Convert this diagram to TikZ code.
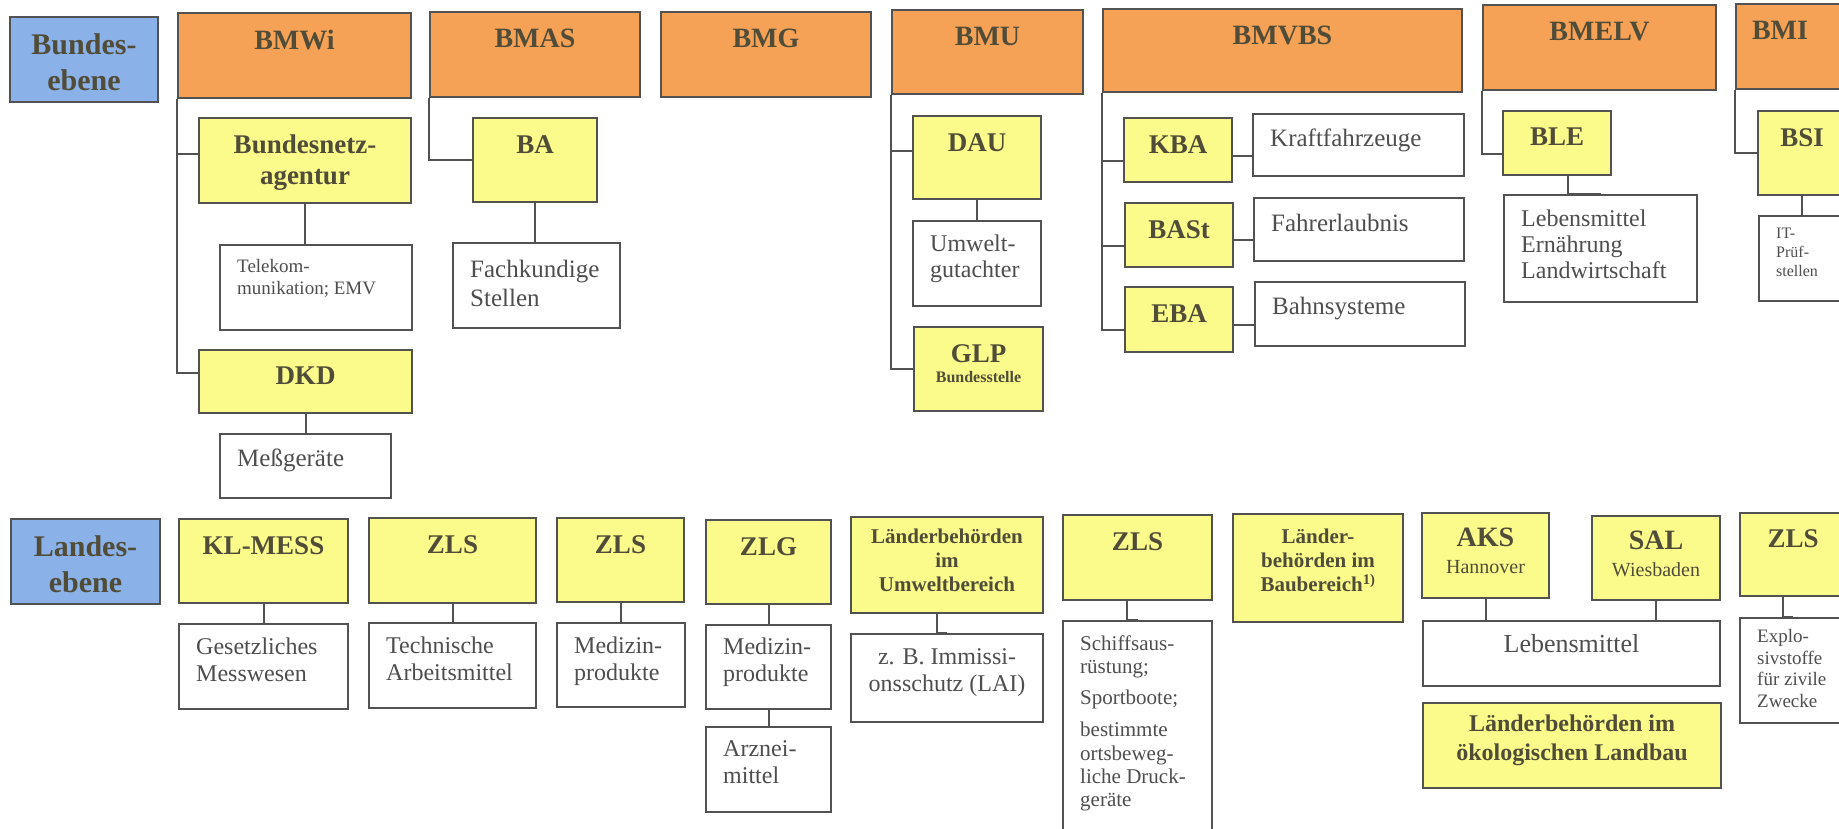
\documentclass[tikz,border=0pt]{standalone}
\usepackage{fontspec}
\setmainfont{Liberation Serif}
\usetikzlibrary{calc}
\definecolor{orangec}{RGB}{246,162,86}
\definecolor{yellowc}{RGB}{251,251,140}
\definecolor{bluec}{RGB}{139,178,232}
\definecolor{linec}{RGB}{82,82,82}
\definecolor{titlec}{RGB}{80,76,56}
\definecolor{txtc}{RGB}{78,78,78}
% box style, name, x1, y1, x2, y2, text style, text
\newcommand{\bx}[8]{%
  \node[#1,minimum width={#5-#3},minimum height={#6-#4}] (#2) at ({(#3+#5)/2},{(#4+#6)/2}) {};
  \def\bxname{#2}%
  \node[#7] (#2t) {#8};}

\begin{document}
\begin{tikzpicture}[x=1pt,y=-1pt,
  box/.style={draw=linec,line width=2pt,inner sep=0pt},
  ob/.style={box,fill=orangec},
  yb/.style={box,fill=yellowc},
  wb/.style={box,fill=white},
  bb/.style={box,fill=bluec},
  ln/.style={draw=linec,line width=2pt},
  tt/.style={at={(\bxname.north)},anchor=north,align=center,inner sep=0pt,text=titlec,yshift=-#1},
  ot/.style={tt=#1,font=\bfseries\fontsize{28}{32}\selectfont}, ot/.default=18pt,
  yt/.style={tt=#1,font=\bfseries\fontsize{27}{31}\selectfont}, yt/.default=18pt,
  bt/.style={tt=#1,font=\bfseries\fontsize{30}{36}\selectfont}, bt/.default=17pt,
  st/.style={tt=#1,font=\bfseries\fontsize{21}{24}\selectfont}, st/.default=14pt,
  ct/.style={at={(\bxname.north)},anchor=north,align=center,inner sep=0pt,text=txtc,yshift=-#1,font=\fontsize{24}{27}\selectfont}, ct/.default=15pt,
  lt/.style={at={(\bxname.north west)},anchor=north west,align=left,inner sep=0pt,text=txtc,xshift=18pt,yshift=-#1,font=\fontsize{24}{27}\selectfont}, lt/.default=16pt]
\useasboundingbox (0,0) rectangle (1839,828);
\fill[white] (0,0) rectangle (1839,828);
\clip (0,0) rectangle (1839,828);

% Bundesebene
\bx{bb}{bund}{10}{17}{158}{102}{bt}{Bundes-\\ebene}
\bx{ob}{bmwi}{178}{13}{411}{98}{ot}{BMWi}
\bx{ob}{bmas}{430}{12}{640}{97}{ot}{BMAS}
\bx{ob}{bmg}{661}{12}{871}{97}{ot}{BMG}
\bx{ob}{bmu}{892}{10}{1083}{94}{ot}{BMU}
\bx{ob}{bmvbs}{1103}{9}{1462}{92}{ot}{BMVBS}
\bx{ob}{bmelv}{1483}{5}{1716}{90}{ot}{BMELV}
\bx{ob}{bmi}{1736}{4}{1850}{89}{ot,xshift=-13pt}{BMI}

\bx{yb}{bnetza}{199}{118}{411}{203}{yt}{Bundesnetz-\\agentur}
\bx{wb}{tele}{220}{245}{412}{330}{lt=15pt,font=\fontsize{19}{22}\selectfont}{Telekom-\\munikation; EMV}
\bx{yb}{dkd}{199}{350}{412}{413}{yt}{DKD}
\bx{wb}{mess}{220}{434}{391}{498}{lt=16pt,font=\fontsize{25}{28}\selectfont}{Meßgeräte}

\bx{yb}{ba}{473}{118}{597}{202}{yt}{BA}
\bx{wb}{fachk}{453}{243}{620}{328}{lt=18pt,font=\fontsize{25}{29}\selectfont}{Fachkundige\\Stellen}

\bx{yb}{dau}{913}{116}{1041}{199}{yt}{DAU}
\bx{wb}{umwelt}{913}{221}{1041}{306}{lt=15pt,font=\fontsize{24}{26}\selectfont}{Umwelt-\\gutachter}
\bx{yb}{glp}{914}{327}{1043}{411}{yt}{GLP\\[-11pt]{\fontsize{16}{18}\selectfont Bundesstelle}}

\bx{yb}{kba}{1124}{118}{1232}{182}{yt}{KBA}
\bx{yb}{bast}{1125}{203}{1233}{267}{yt}{BASt}
\bx{yb}{eba}{1125}{287}{1233}{352}{yt}{EBA}
\bx{wb}{kfz}{1253}{114}{1464}{176}{lt=16pt,font=\fontsize{25}{28}\selectfont}{Kraftfahrzeuge}
\bx{wb}{fahr}{1254}{198}{1464}{261}{lt=17pt,font=\fontsize{25}{28}\selectfont}{Fahrerlaubnis}
\bx{wb}{bahn}{1255}{282}{1465}{346}{lt=16pt,font=\fontsize{25}{28}\selectfont}{Bahnsysteme}

\bx{yb}{ble}{1503}{111}{1611}{175}{yt}{BLE}
\bx{wb}{leb}{1504}{195}{1697}{302}{lt=16pt,font=\fontsize{24}{26}\selectfont}{Lebensmittel\\Ernährung\\Landwirtschaft}

\bx{yb}{bsi}{1758}{111}{1846}{195}{yt}{BSI}
\bx{wb}{it}{1759}{216}{1846}{301}{lt=13pt,font=\fontsize{16}{19}\selectfont}{IT-\\Prüf-\\stellen}

% Landesebene
\bx{bb}{land}{11}{519}{160}{604}{bt}{Landes-\\ebene}
\bx{yb}{klmess}{179}{519}{348}{603}{yt}{KL-MESS}
\bx{yb}{zlsa}{369}{518}{536}{603}{yt}{ZLS}
\bx{yb}{zlsb}{557}{518}{684}{602}{yt}{ZLS}
\bx{yb}{zlg}{706}{520}{831}{604}{yt}{ZLG}
\bx{yb}{lbu}{851}{517}{1043}{613}{st=13pt}{Länderbehörden\\im\\Umweltbereich}
\bx{yb}{zlsc}{1063}{515}{1212}{600}{yt}{ZLS}
\bx{yb}{bau}{1233}{514}{1403}{622}{st=16pt}{Länder-\\behörden im\\Baubereich\textsuperscript{1)}}
\bx{yb}{aks}{1422}{513}{1549}{598}{ot=16pt}{AKS\\[-5pt]{\mdseries\fontsize{20}{24}\selectfont Hannover}}
\bx{yb}{sal}{1592}{516}{1720}{600}{ot=16pt}{SAL\\[-5pt]{\mdseries\fontsize{20}{24}\selectfont Wiesbaden}}
\bx{yb}{zlsd}{1740}{513}{1846}{596}{yt=17pt}{ZLS}

\bx{wb}{gesetz}{179}{624}{348}{709}{lt=15pt}{Gesetzliches\\Messwesen}
\bx{wb}{techn}{369}{623}{536}{708}{lt=15pt}{Technische\\Arbeitsmittel}
\bx{wb}{meda}{557}{623}{685}{707}{lt=15pt}{Medizin-\\produkte}
\bx{wb}{medb}{706}{625}{831}{709}{lt=14pt}{Medizin-\\produkte}
\bx{wb}{arz}{706}{727}{831}{812}{lt=14pt}{Arznei-\\mittel}
\bx{wb}{immi}{851}{634}{1043}{722}{ct=15pt}{z. B. Immissi-\\onsschutz (LAI)}
\bx{wb}{schiff}{1063}{621}{1212}{850}{lt=15pt,font=\fontsize{21}{23.5}\selectfont}{Schiffsaus-\\rüstung;\\[8pt]Sportboote;\\[8pt]bestimmte\\ortsbeweg-\\liche Druck-\\geräte}
\bx{wb}{lebb}{1423}{621}{1720}{686}{ct=14pt,font=\fontsize{26}{30}\selectfont}{Lebensmittel}
\bx{yb}{oeko}{1423}{703}{1721}{788}{st=13pt,font=\bfseries\fontsize{24}{29}\selectfont}{Länderbehörden im\\ökologischen Landbau}
\bx{wb}{explo}{1740}{618}{1846}{723}{lt=12pt,font=\fontsize{19}{21.7}\selectfont}{Explo-\\sivstoffe\\für zivile\\Zwecke}

% Verbindungen oben
\draw[ln] (bmwi.south west) |- ([yshift=9pt]dkd.west);
\draw[ln] ([yshift=7pt]bnetza.west) -| (bmwi.south west);
\draw[ln] (bnetza.south) -- (bnetza.south |- tele.north);
\draw[ln] (dkd.south) -- (dkd.south |- mess.north);
\draw[ln] (bmas.south west) |- (ba.west);
\draw[ln] (ba.south) -- (ba.south |- fachk.north);
\draw[ln] (bmu.south west) |- (glp.west);
\draw[ln] ([yshift=7pt]dau.west) -| (bmu.south west);
\draw[ln] (dau.south) -- (dau.south |- umwelt.north);
\draw[ln] (bmvbs.south west) |- ([yshift=-10pt]eba.west);
\draw[ln] ([yshift=-11pt]kba.west) -| (bmvbs.south west);
\draw[ln] ([yshift=-11pt]bast.west) -| (bmvbs.south west);
\draw[ln] ([yshift=-6pt]kba.east) -- ([yshift=-11pt]kfz.west);
\draw[ln] ([yshift=-5pt]bast.east) -- ([yshift=-10.5pt]fahr.west);
\draw[ln] ([yshift=-5.5pt]eba.east) -- ([yshift=-11pt]bahn.west);
\draw[ln] (bmelv.south west) |- ([yshift=-11pt]ble.west);
\draw[ln] ([xshift=11pt]ble.south) |- (leb.north);
\draw[ln] (bmi.south west) |- (bsi.west);
\draw[ln] (bsi.south) -- (bsi.south |- it.north);
% Verbindungen unten
\draw[ln] (klmess.south) -- (gesetz.north);
\draw[ln] (zlsa.south) -- (techn.north);
\draw[ln] (zlsb.south) -- (zlsb.south |- meda.north);
\draw[ln] (zlg.south) -- (medb.north);
\draw[ln] (medb.south) -- (arz.north);
\draw[ln] ([xshift=-10pt]lbu.south) |- (immi.north);
\draw[ln] ([xshift=-11pt]zlsc.south) |- (schiff.north);
\draw[ln] (aks.south) -- (aks.south |- lebb.north);
\draw[ln] (sal.south) -- (sal.south |- lebb.north);
\draw[ln] ([xshift=-10pt]zlsd.south) |- (explo.north);
\end{tikzpicture}
\end{document}
